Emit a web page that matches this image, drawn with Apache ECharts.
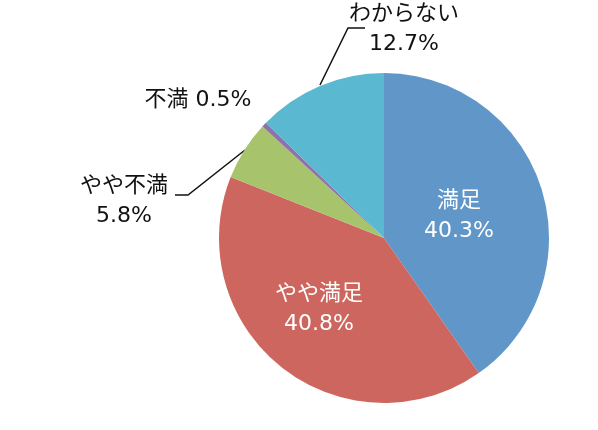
<!DOCTYPE html>
<html>
<head>
<meta charset="utf-8">
<script src="https://cdn.jsdelivr.net/npm/echarts@6/dist/echarts.min.js"></script>
<style>
html, body { margin: 0; padding: 0; background: #fff; }
#chart { width: 598px; height: 430px; }
</style>
</head>
<body>
<div id="chart"></div>
<script>
// 満足度の回答区分と割合(%)
var CATEGORIES = ["満足", "やや満足", "やや不満", "不満", "わからない"];
var VALUES = [40.3, 40.8, 5.8, 0.5, 12.7];
var COLORS = ["#6096c8", "#cd665e", "#a7c46c", "#8c74aa", "#5bb8d1"];

// ラベルの配置（ラベル中心座標）と引き出し線
var LABEL_POS = [
	{ x: 459, y: 216, color: "#fff", inside: true },
	{ x: 319, y: 309, color: "#fff", inside: true },
	{ x: 124, y: 201, color: "#111", line: [[245, 150], [188, 195], [175, 195]] },
	{ x: 198, y: 100, color: "#111" },
	{ x: 404, y: 29, color: "#111", line: [[320, 85], [348, 28], [365, 28]] }
];

var chart = echarts.init(document.getElementById("chart"));

var pieData = CATEGORIES.map(function (name, i) {
	var sep = (name === "不満") ? " " : "\n";
	return {
		name: name,
		value: VALUES[i],
		itemStyle: { color: COLORS[i] },
		label: {
			formatter: name + sep + VALUES[i].toFixed(1) + "%",
			color: LABEL_POS[i].color,
			position: LABEL_POS[i].inside ? "inside" : "outside"
		},
		labelLine: { show: !!LABEL_POS[i].line }
	};
});

chart.setOption({
	animation: false,
	series: [{
		type: "pie",
		center: [384, 238],
		radius: 165,
		startAngle: 90,
		clockwise: true,
		avoidLabelOverlap: false,
		data: pieData,
		itemStyle: { borderWidth: 0 },
		label: {
			show: true,
			position: "outside",
			fontFamily: "DejaVu Sans, Noto Sans CJK JP",
			fontSize: 22,
			lineHeight: 30
		},
		labelLine: {
			show: true,
			lineStyle: { color: "#111", width: 1.5 }
		},
		labelLayout: function (params) {
			var p = LABEL_POS[params.dataIndex];
			var res = { x: p.x, y: p.y, align: "center", verticalAlign: "middle" };
			if (p.line) res.labelLinePoints = p.line;
			return res;
		},
		emphasis: { disabled: true }
	}]
});
</script>
</body>
</html>
